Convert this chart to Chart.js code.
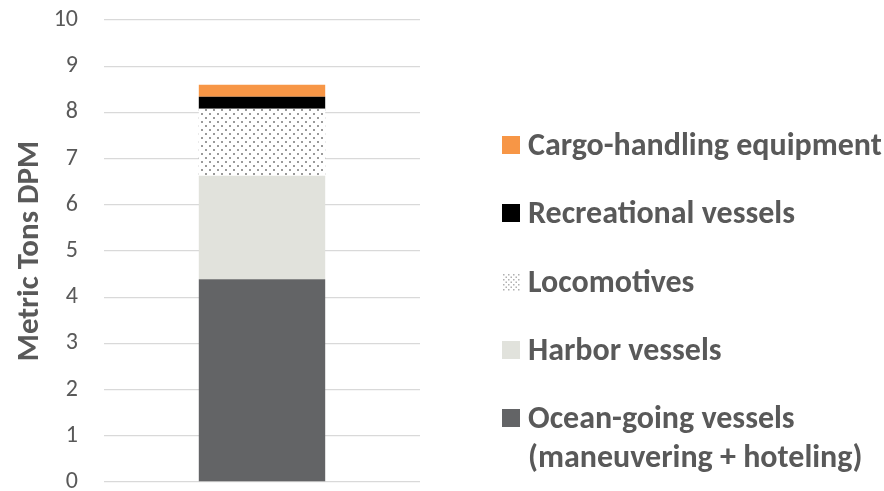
<!DOCTYPE html>
<html>
<head>
<meta charset="utf-8">
<script src="https://cdn.jsdelivr.net/npm/chart.js@4.4.0/dist/chart.umd.min.js"></script>
<style>
  html, body { margin: 0; padding: 0; background: #fff; }
  #wrap { position: relative; width: 884px; height: 491px; overflow: hidden; }
  #c { position: absolute; left: 0; top: 0; }
  #legend { position: absolute; left: 0; top: 0; width: 884px; height: 491px; pointer-events: none;
    font-family: Carlito, Lato, "Open Sans", sans-serif; font-weight: bold; color: #595959; font-size: 32px; }
  .item { position: absolute; left: 502px; white-space: nowrap; line-height: 39px; }
  .item canvas { position: absolute; left: 0; top: 11px; }
  .item .txt { position: absolute; left: 26px; top: 0; }
</style>
</head>
<body>
<div id="wrap">
  <canvas id="c" width="884" height="494"></canvas>
  <div id="legend"></div>
</div>
<script>
// ---- data ----
const categories = ['Total'];
const seriesNames = ['Ocean-going vessels\n(maneuvering + hoteling)', 'Harbor vessels', 'Locomotives', 'Recreational vessels', 'Cargo-handling equipment'];
const oceanGoing = [4.39];
const harborVessels = [2.24];
const locomotives = [1.45];
const recreationalVessels = [0.26];
const cargoHandling = [0.26];
const yTicks = [0, 1, 2, 3, 4, 5, 6, 7, 8, 9, 10];
const yTitle = 'Metric Tons DPM';

const colors = ['#636466', '#E1E2DC', 'pattern', '#000000', '#F79646'];

function makePattern(size, dot, col) {
  const p = document.createElement('canvas');
  p.width = size; p.height = size;
  const g = p.getContext('2d');
  g.fillStyle = '#ffffff'; g.fillRect(0, 0, size, size);
  g.fillStyle = col;
  g.fillRect(1, 1, dot, dot);
  g.fillRect(1 + size / 2, 1 + size / 2, dot, dot);
  return p;
}
const ctx = document.getElementById('c').getContext('2d');
const dotPattern = ctx.createPattern(makePattern(8, 2, '#9a9a9a'), 'repeat');

const seriesData = [oceanGoing, harborVessels, locomotives, recreationalVessels, cargoHandling];
const datasets = seriesData.map((d, i) => ({
  label: seriesNames[i],
  data: d,
  backgroundColor: colors[i] === 'pattern' ? dotPattern : colors[i],
  borderWidth: 0,
  barPercentage: 0.4,
  categoryPercentage: 1.0
}));

const FONT = 'Carlito, Lato, "Open Sans", sans-serif';

new Chart(ctx, {
  type: 'bar',
  data: { labels: categories, datasets },
  options: {
    responsive: false,
    animation: false,
    layout: { padding: { top: 20, right: 464, bottom: 12, left: 12 } },
    plugins: { legend: { display: false }, tooltip: { enabled: false } },
    scales: {
      x: { stacked: true, display: false },
      y: {
        stacked: true, min: 0, max: 10,
        afterBuildTicks: (s) => { s.ticks = yTicks.map(v => ({ value: v })); },
        afterFit: (s) => { s.width = 92; },
        ticks: { color: '#595959', font: { family: FONT, size: 24, lineHeight: 1 }, padding: 0 },
        grid: { color: '#d9d9d9', lineWidth: 1.3, drawTicks: true, tickLength: 26, tickColor: 'rgba(0,0,0,0)' },
        border: { display: false },
        title: { display: true, text: yTitle, color: '#595959', font: { family: FONT, size: 31, weight: 'bold' }, padding: 0 }
      }
    }
  }
});

// ---- legend (HTML, built from series arrays) ----
const legend = document.getElementById('legend');
const legendTops = [125, 193, 262, 330, 398]; // top to bottom
const order = [4, 3, 2, 1, 0];
order.forEach((si, k) => {
  const item = document.createElement('div');
  item.className = 'item';
  item.style.top = legendTops[k] + 'px';
  const sw = document.createElement('canvas');
  sw.width = 18; sw.height = 18;
  const g = sw.getContext('2d');
  if (colors[si] === 'pattern') {
    g.fillStyle = g.createPattern(makePattern(5, 1.5, '#b0b0b0'), 'repeat');
  } else {
    g.fillStyle = colors[si];
  }
  g.fillRect(0, 0, 18, 18);
  item.appendChild(sw);
  const t = document.createElement('div');
  t.className = 'txt';
  t.innerHTML = seriesNames[si].split('\n').join('<br>');
  item.appendChild(t);
  legend.appendChild(item);
});
</script>
</body>
</html>
